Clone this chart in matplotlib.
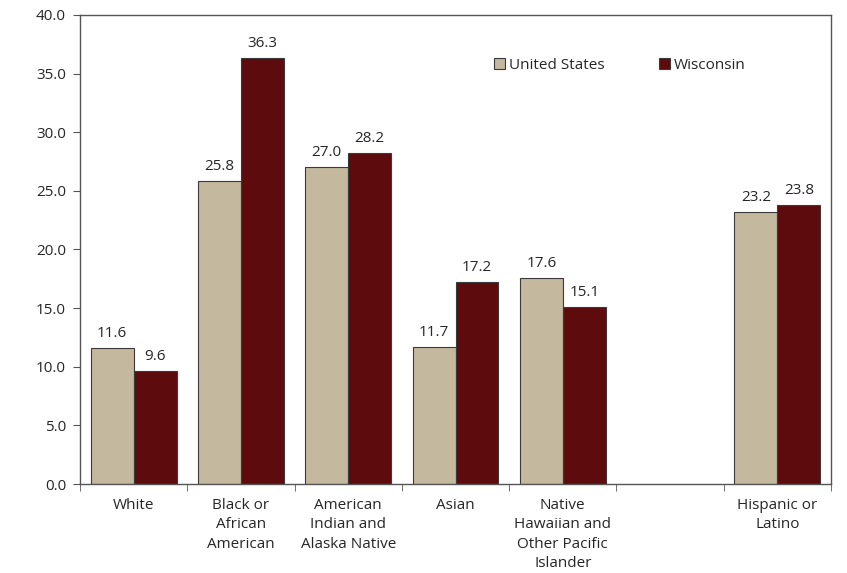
import matplotlib
matplotlib.use("Agg")
import matplotlib.pyplot as plt
import numpy as np

categories = ["White", "Black or\nAfrican\nAmerican", "American\nIndian and\nAlaska Native",
              "Asian", "Native\nHawaiian and\nOther Pacific\nIslander", "", "Hispanic or\nLatino"]
us_values = [11.6, 25.8, 27.0, 11.7, 17.6, None, 23.2]
wi_values = [9.6, 36.3, 28.2, 17.2, 15.1, None, 23.8]
series_names = ["United States", "Wisconsin"]
y_ticks = [0, 5, 10, 15, 20, 25, 30, 35, 40]

plt.rcParams['font.family'] = ['Open Sans', 'DejaVu Sans']
c_us = "#C4B89E"
c_wi = "#5E0B0E"
txt = "#262626"
fs = 11

fig = plt.figure(figsize=(8.47, 5.73), dpi=100)
ax = fig.add_axes([80/847, 1-484/573, (831-80)/847, (484-15)/573])

x = np.arange(len(categories))
w = 0.40
for i in range(len(categories)):
    if us_values[i] is not None:
        ax.bar(x[i] - w/2, us_values[i], w, color=c_us, edgecolor="#3a3a3a", linewidth=0.8, label=series_names[0] if i == 0 else None)
        ax.text(x[i] - w/2, us_values[i] + 0.6, f"{us_values[i]:.1f}", ha="center", va="bottom", fontsize=fs, color=txt)
    if wi_values[i] is not None:
        ax.bar(x[i] + w/2, wi_values[i], w, color=c_wi, edgecolor="#3a3a3a", linewidth=0.8, label=series_names[1] if i == 0 else None)
        ax.text(x[i] + w/2, wi_values[i] + 0.6, f"{wi_values[i]:.1f}", ha="center", va="bottom", fontsize=fs, color=txt)

ax.set_xlim(-0.5, len(categories) - 0.5)
ax.set_ylim(0, 40)
ax.set_yticks(y_ticks)
ax.set_yticklabels([f"{v:.1f}" for v in y_ticks], fontsize=fs, color=txt)
ax.set_xticks(x)
ax.set_xticklabels(categories, fontsize=fs, color=txt, linespacing=1.4)
ax.tick_params(axis="x", which="major", length=0, pad=10)
ax.set_xticks(np.arange(len(categories) + 1) - 0.5, minor=True)
ax.tick_params(axis="x", which="minor", length=5, color="#555555", direction="out")
ax.tick_params(axis="y", length=5, color="#555555", direction="out", pad=5)
for s in ax.spines.values():
    s.set_color("#555555")
    s.set_linewidth(1.0)

leg = ax.legend(loc="upper left", bbox_to_anchor=(0.533, 0.938), ncol=2, frameon=False,
                handlelength=0.7, handleheight=0.7, handletextpad=0.25, columnspacing=3.6,
                fontsize=fs)
for t in leg.get_texts():
    t.set_color(txt)

fig.savefig("out.png", dpi=100)
